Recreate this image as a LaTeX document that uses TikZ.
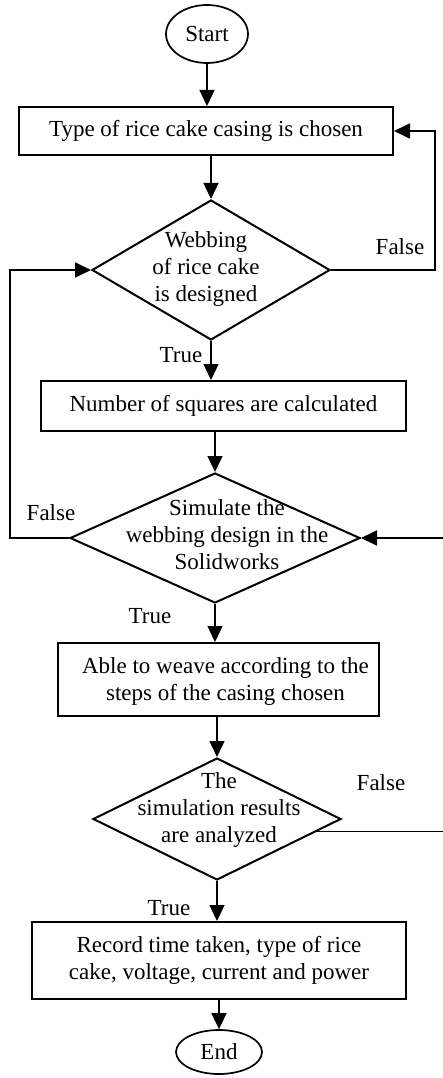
\documentclass[tikz,border=0pt]{standalone}
\usepackage{fontspec}
\setmainfont{Liberation Serif}
\usetikzlibrary{shapes.geometric,arrows.meta,calc}
\begin{document}
\begin{tikzpicture}[x=1pt,y=-1pt,
  every node/.style={font=\fontsize{23}{27}\selectfont, align=center},
  box/.style={draw, line width=2pt, inner sep=0pt},
  dia/.style={draw, diamond, line width=2pt, inner sep=0pt},
  term/.style={draw, ellipse, line width=1.7pt, inner sep=0pt},
  arr/.style={line width=1.4pt, -{Triangle[length=16pt,width=15pt]}},
  loopline/.style={line width=1.8pt, -{Triangle[length=16pt,width=15pt]}},
  lbl/.style={inner sep=0pt}]
\useasboundingbox (0,0) rectangle (443,1078);

\node[term, minimum width=82pt, minimum height=58pt] (start) at (207,34) {Start};
\node[box, minimum width=374pt, minimum height=48pt] (b1) at (206,131) {Type of rice cake casing is chosen};
\node[dia, minimum width=238pt, minimum height=140pt,
  label={[align=center, xshift=-5pt, yshift=1pt]center:Webbing\\of rice cake\\is designed}] (d1) at (211,270) {};
\node[box, minimum width=365pt, minimum height=50pt] (b2) at (223.5,406) {Number of squares are calculated};
\node[dia, minimum width=290pt, minimum height=130pt,
  label={[align=center, xshift=12pt, yshift=3pt]center:Simulate the\\webbing design in the\\Solidworks}] (d2) at (215,538) {};
\node[box, minimum width=321pt, minimum height=73pt,
  label={[align=center, xshift=7pt, yshift=-2pt]center:Able to weave according to the\\steps of the casing chosen}] (b3) at (218.5,679.5) {};
\node[dia, minimum width=248pt, minimum height=122pt,
  label={[align=center, xshift=2pt, yshift=9pt]center:The\\simulation results\\are analyzed}] (d3) at (217,819) {};
\node[box, minimum width=374pt, minimum height=77pt] (b4) at (219,960.5) {Record time taken, type of rice\\cake, voltage, current and power};
\node[term, minimum width=86pt, minimum height=44pt] (end) at (219,1052) {End};

\coordinate (r1) at (435,200);
\coordinate (l1) at (10,400);
\coordinate (rr) at (448,700);

\draw[arr] (start.south) -- (start.south |- b1.north);
\draw[arr] (b1.south -| d1.north) -- (d1.north);
\draw[arr] (d1.south) -- (d1.south |- b2.north);
\draw[arr] (b2.south -| d2.north) -- (d2.north);
\draw[arr] (d2.south) -- (d2.south |- b3.north);
\draw[arr] (b3.south -| d3.north) -- (d3.north);
\draw[arr] (d3.south) -- (d3.south |- b4.north);
\draw[arr] (b4.south -| end.north) -- (end.north);

\draw[loopline] (d1.east) -| (r1) |- (b1.east);
\draw[loopline] (d2.west) -| (l1) |- (d1.west);
\draw[loopline] ($(d3.east)!0.2!(d3.south)$) -| (rr) |- (d2.east);

\node[lbl] (f1) at (400,247) {False};
\node[lbl] (t1) at (181,355) {True};
\node[lbl] (f2) at (51,513) {False};
\node[lbl] (t2) at (150,616) {True};
\node[lbl] (f3) at (381,783) {False};
\node[lbl] (t3) at (169,908) {True};
\end{tikzpicture}
\end{document}
